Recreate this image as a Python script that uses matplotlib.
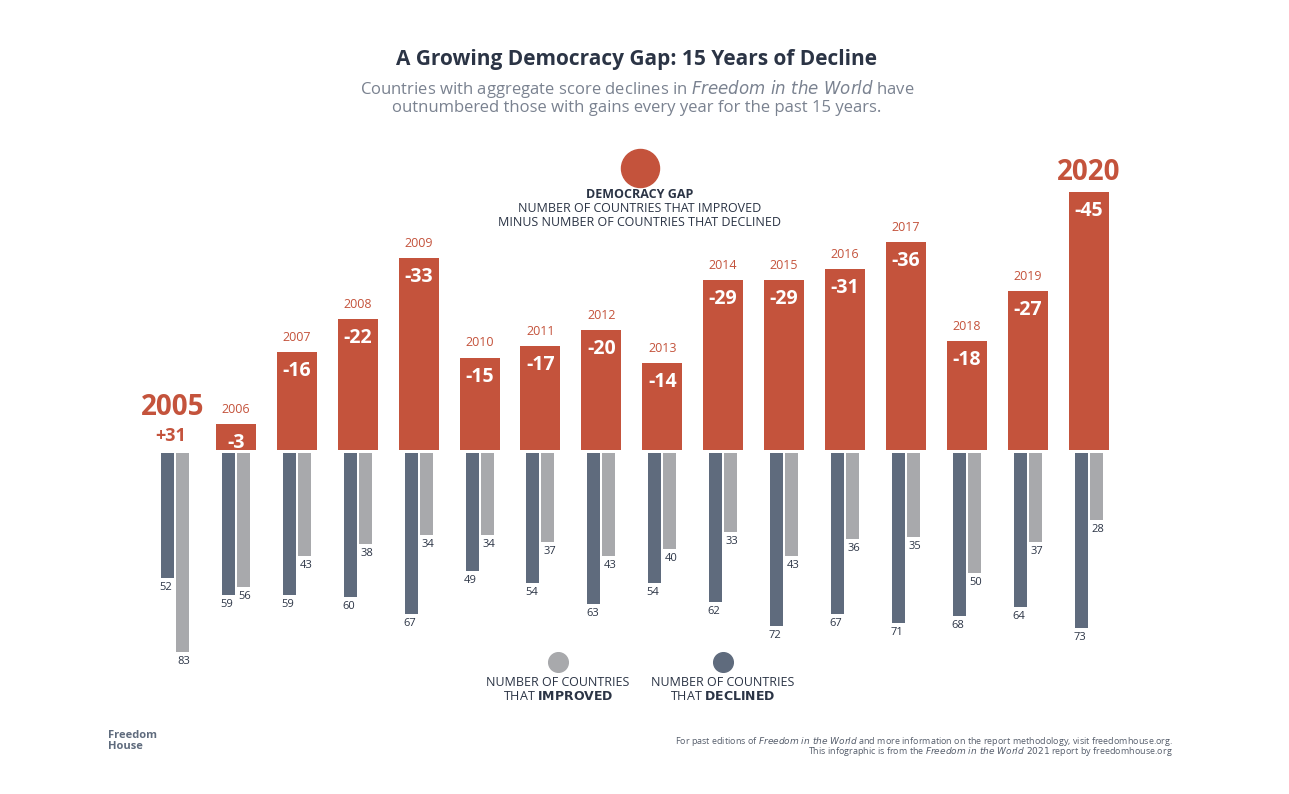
import matplotlib
matplotlib.use("Agg")
import matplotlib.pyplot as plt
from matplotlib.patches import Rectangle

plt.rcParams["font.family"] = "Open Sans"

years = list(range(2005, 2021))
gap = [31, -3, -16, -22, -33, -15, -17, -20, -14, -29, -29, -31, -36, -18, -27, -45]
improved = [83, 56, 43, 38, 34, 34, 37, 43, 40, 33, 43, 36, 35, 50, 37, 28]
declined = [52, 59, 59, 60, 67, 49, 54, 63, 54, 62, 72, 67, 71, 68, 64, 73]

RED = "#c4533c"
DARK = "#5f6b7d"
GRAY = "#a8a9ac"
INK = "#2b3445"

# layout in pixel units (figure drawn 1:1)
X0, DX = 175, 60.9
TOP_BASE, BOT_BASE = 450, 453
GAP_PAD, GAP_SCALE = 9.7, 5.52
CNT_SCALE = 2.4

fig = plt.figure(figsize=(12.89, 7.94), dpi=100)
ax = fig.add_axes([0, 0, 1, 1])
ax.set_xlim(0, 1289)
ax.set_ylim(794, 0)
ax.axis("off")

for i, y in enumerate(years):
    cx = X0 + DX * i
    g = gap[i]
    if g < 0:
        h = GAP_PAD + GAP_SCALE * abs(g)
        ax.add_patch(Rectangle((cx - 20, TOP_BASE - h), 40, h, color=RED, lw=0))
        ax.text(cx, TOP_BASE - h + 9, f"{g}", color="white", fontsize=14, fontweight="bold",
                ha="center", va="top")
        if y == 2020:
            ax.text(cx, TOP_BASE - h - 5, str(y), color=RED, fontsize=20, fontweight="bold",
                    ha="center", va="bottom")
        else:
            ax.text(cx, TOP_BASE - h - 8, str(y), color=RED, fontsize=9, ha="center", va="bottom")
    else:
        ax.text(cx - 4, TOP_BASE - 5, f"+{g}", color=RED, fontsize=13, fontweight="bold",
                ha="center", va="bottom")
        ax.text(cx - 2, TOP_BASE - 28, str(y), color=RED, fontsize=20, fontweight="bold",
                ha="center", va="bottom")
    hd = CNT_SCALE * declined[i]
    hi = CNT_SCALE * improved[i]
    ax.add_patch(Rectangle((cx - 14, BOT_BASE), 13, hd, color=DARK, lw=0))
    ax.add_patch(Rectangle((cx + 1, BOT_BASE), 13, hi, color=GRAY, lw=0))
    ax.text(cx - 9, BOT_BASE + hd + 4, str(declined[i]), color=INK, fontsize=8, ha="center", va="top")
    ax.text(cx + 9, BOT_BASE + hi + 4, str(improved[i]), color=INK, fontsize=8, ha="center", va="top")

# titles
ax.text(637, 60, "A Growing Democracy Gap: 15 Years of Decline", color=INK, fontsize=15,
        fontweight="bold", ha="center", va="center")
ax.text(637, 89, "Countries with aggregate score declines in $\\it{Freedom\\ in\\ the\\ World}$ have",
        color="#7a8290", fontsize=12, ha="center", va="center")
ax.text(637, 108, "outnumbered those with gains every year for the past 15 years.",
        color="#7a8290", fontsize=12, ha="center", va="center")

# gap legend
ax.scatter([640], [168], s=750, color=RED, zorder=3)
ax.text(640, 194, "DEMOCRACY GAP", color=INK, fontsize=9, fontweight="bold", ha="center", va="center")
ax.text(640, 208, "NUMBER OF COUNTRIES THAT IMPROVED", color=INK, fontsize=9, ha="center", va="center")
ax.text(640, 222, "MINUS NUMBER OF COUNTRIES THAT DECLINED", color=INK, fontsize=9, ha="center", va="center")

# bottom legend
ax.scatter([558], [662], s=200, color=GRAY)
ax.text(558, 683, "NUMBER OF COUNTRIES", color=INK, fontsize=9, ha="center", va="center")
ax.text(558, 697, "THAT $\\bf{IMPROVED}$", color=INK, fontsize=9, ha="center", va="center")
ax.scatter([723], [662], s=200, color=DARK)
ax.text(723, 683, "NUMBER OF COUNTRIES", color=INK, fontsize=9, ha="center", va="center")
ax.text(723, 697, "THAT $\\bf{DECLINED}$", color=INK, fontsize=9, ha="center", va="center")

# footer
ax.text(108, 741, "Freedom\nHouse", color=DARK, fontsize=8, fontweight="bold", ha="left",
        va="center", linespacing=0.95)
ax.text(1173, 741, "For past editions of $\\it{Freedom\\ in\\ the\\ World}$ and more information on the report methodology, visit freedomhouse.org.",
        color="#555d6b", fontsize=6.5, ha="right", va="center")
ax.text(1173, 752, "This infographic is from the $\\it{Freedom\\ in\\ the\\ World\\ 2021}$ report by freedomhouse.org",
        color="#555d6b", fontsize=6.5, ha="right", va="center")

fig.savefig("out.png", dpi=100)
